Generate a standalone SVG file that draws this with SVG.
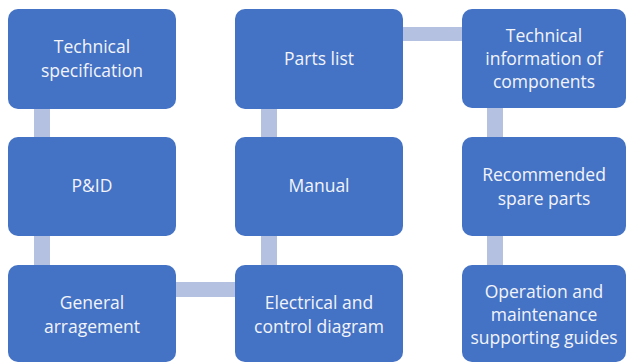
<svg xmlns="http://www.w3.org/2000/svg" width="627" height="363" viewBox="0 0 627 363">
<style>
.box{fill:#4472C4;}
.con{fill:#B4C1E0;}
text{font-family:"Open Sans","Liberation Sans",sans-serif;font-size:17.5px;fill:#F2F4FA;text-anchor:middle;}
</style>
<rect width="627" height="363" fill="#FFFFFF"/>
<g id="connectors">
<rect class="con" x="34" y="109" width="16" height="28"/>
<rect class="con" x="34" y="236" width="16" height="29"/>
<rect class="con" x="261" y="109" width="16" height="28"/>
<rect class="con" x="261" y="236" width="16" height="29"/>
<rect class="con" x="487" y="108" width="16" height="29"/>
<rect class="con" x="487" y="236" width="16" height="29"/>
<rect class="con" x="176" y="282" width="59" height="15"/>
<rect class="con" x="403" y="27" width="59" height="14"/>
</g>
<g id="n1"><rect class="box" x="8" y="9" width="168" height="100" rx="10"/><text x="92" y="53">Technical</text><text x="92" y="77">specification</text></g>
<g id="n2"><rect class="box" x="8" y="137" width="168" height="99" rx="10"/><text x="92" y="192">P&amp;ID</text></g>
<g id="n3"><rect class="box" x="8" y="265" width="168" height="97" rx="10"/><text x="92" y="309">General</text><text x="92" y="333">arragement</text></g>
<g id="n4"><rect class="box" x="235" y="9" width="168" height="100" rx="10"/><text x="319" y="65">Parts list</text></g>
<g id="n5"><rect class="box" x="235" y="137" width="168" height="99" rx="10"/><text x="319" y="192">Manual</text></g>
<g id="n6"><rect class="box" x="235" y="265" width="168" height="97" rx="10"/><text x="319" y="309">Electrical and</text><text x="319" y="333">control diagram</text></g>
<g id="n7"><rect class="box" x="462" y="9" width="164" height="99" rx="10"/><text x="544" y="42">Technical</text><text x="544" y="65">information of</text><text x="544" y="88">components</text></g>
<g id="n8"><rect class="box" x="462" y="137" width="164" height="99" rx="10"/><text x="544" y="181">Recommended</text><text x="544" y="205">spare parts</text></g>
<g id="n9"><rect class="box" x="462" y="265" width="164" height="97" rx="10"/><text x="544" y="298">Operation and</text><text x="544" y="321">maintenance</text><text x="544" y="344">supporting guides</text></g>
</svg>
